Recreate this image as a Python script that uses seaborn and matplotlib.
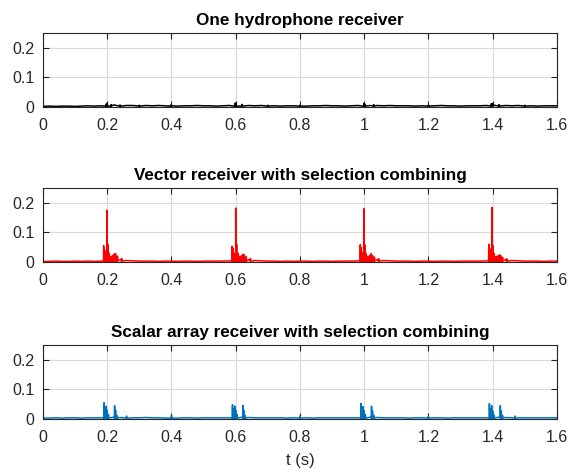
import numpy as np
import pandas as pd
import matplotlib
matplotlib.use("Agg")
import matplotlib.pyplot as plt
import seaborn as sns

# ---------------- data ----------------
titles = ["One hydrophone receiver",
          "Vector receiver with selection combining",
          "Scalar array receiver with selection combining"]
x_ticks = [0, 0.2, 0.4, 0.6, 0.8, 1.0, 1.2, 1.4, 1.6]
x_tick_labels = ["0", "0.2", "0.4", "0.6", "0.8", "1", "1.2", "1.4", "1.6"]
y_ticks = [0, 0.1, 0.2]
y_tick_labels = ["0", "0.1", "0.2"]

# noise floor sampled every 0.02 s (0 .. 1.6)
floor_time = [round(0.02 * i, 2) for i in range(81)]
hydro_floor = [0.002, 0.003, 0.002, 0.003, 0.003, 0.002, 0.003, 0.004, 0.003, 0.004,
               0.006, 0.007, 0.006, 0.005, 0.005, 0.004, 0.005, 0.004, 0.005, 0.004,
               0.004, 0.003, 0.004, 0.004, 0.005, 0.004, 0.004, 0.003, 0.004, 0.005,
               0.007, 0.006, 0.005, 0.004, 0.005, 0.004, 0.004, 0.003, 0.004, 0.004,
               0.004, 0.003, 0.004, 0.004, 0.005, 0.004, 0.004, 0.003, 0.004, 0.005,
               0.006, 0.005, 0.005, 0.004, 0.005, 0.004, 0.004, 0.004, 0.003, 0.004,
               0.004, 0.004, 0.005, 0.004, 0.004, 0.003, 0.004, 0.004, 0.004, 0.005,
               0.007, 0.006, 0.005, 0.004, 0.005, 0.004, 0.004, 0.003, 0.004, 0.004, 0.004]
vector_floor = [0.002, 0.002, 0.003, 0.002, 0.002, 0.003, 0.002, 0.003, 0.002, 0.003,
                0.008, 0.010, 0.008, 0.005, 0.004, 0.003, 0.003, 0.003, 0.002, 0.003,
                0.003, 0.002, 0.003, 0.003, 0.002, 0.003, 0.003, 0.003, 0.003, 0.004,
                0.009, 0.011, 0.008, 0.005, 0.004, 0.003, 0.003, 0.002, 0.003, 0.002,
                0.003, 0.003, 0.002, 0.003, 0.003, 0.002, 0.003, 0.003, 0.003, 0.004,
                0.009, 0.010, 0.008, 0.005, 0.004, 0.003, 0.003, 0.003, 0.002, 0.003,
                0.003, 0.002, 0.003, 0.003, 0.002, 0.003, 0.003, 0.003, 0.003, 0.004,
                0.009, 0.010, 0.008, 0.005, 0.004, 0.003, 0.003, 0.003, 0.002, 0.003, 0.003]
scalar_floor = [0.003, 0.003, 0.004, 0.003, 0.004, 0.004, 0.003, 0.004, 0.004, 0.004,
                0.006, 0.006, 0.005, 0.004, 0.004, 0.004, 0.005, 0.004, 0.004, 0.003,
                0.004, 0.003, 0.004, 0.004, 0.003, 0.004, 0.004, 0.004, 0.004, 0.004,
                0.006, 0.006, 0.005, 0.004, 0.004, 0.004, 0.004, 0.004, 0.003, 0.004,
                0.004, 0.004, 0.003, 0.004, 0.004, 0.004, 0.004, 0.004, 0.004, 0.004,
                0.006, 0.006, 0.005, 0.004, 0.004, 0.004, 0.004, 0.003, 0.004, 0.004,
                0.004, 0.004, 0.004, 0.003, 0.004, 0.004, 0.004, 0.004, 0.004, 0.004,
                0.006, 0.006, 0.005, 0.004, 0.004, 0.004, 0.004, 0.004, 0.004, 0.004, 0.004]

# individual spikes: times (s) and amplitudes
hydro_spike_t = [0.197, 0.200, 0.212, 0.240, 0.300, 0.398, 0.598, 0.601, 0.620,
                 0.700, 0.800, 0.999, 1.002, 1.030, 1.200, 1.396, 1.399, 1.420, 1.500]
hydro_spike_a = [0.010, 0.013, 0.008, 0.007, 0.006, 0.007, 0.012, 0.014, 0.009,
                 0.006, 0.006, 0.012, 0.010, 0.008, 0.006, 0.011, 0.012, 0.008, 0.006]

vector_spike_t = [0.189, 0.192, 0.195, 0.199, 0.202, 0.206, 0.212, 0.218, 0.222, 0.226, 0.232, 0.245,
                  0.589, 0.592, 0.595, 0.600, 0.603, 0.607, 0.613, 0.619, 0.623, 0.627, 0.633, 0.646,
                  0.988, 0.991, 0.994, 0.999, 1.002, 1.006, 1.012, 1.018, 1.022, 1.026, 1.032, 1.045,
                  1.388, 1.391, 1.394, 1.398, 1.401, 1.405, 1.411, 1.417, 1.421, 1.425, 1.431, 1.444]
vector_spike_a = [0.055, 0.040, 0.030, 0.175, 0.060, 0.030, 0.020, 0.022, 0.027, 0.028, 0.020, 0.012,
                  0.053, 0.045, 0.030, 0.182, 0.060, 0.030, 0.020, 0.022, 0.026, 0.024, 0.018, 0.012,
                  0.058, 0.048, 0.032, 0.180, 0.058, 0.028, 0.020, 0.022, 0.028, 0.022, 0.017, 0.011,
                  0.060, 0.045, 0.030, 0.185, 0.055, 0.028, 0.019, 0.021, 0.024, 0.022, 0.016, 0.011]

scalar_spike_t = [0.190, 0.193, 0.197, 0.200, 0.204, 0.223, 0.226, 0.230, 0.260, 0.400,
                  0.590, 0.593, 0.597, 0.600, 0.604, 0.623, 0.626, 0.630, 0.800,
                  0.990, 0.993, 0.997, 1.000, 1.004, 1.023, 1.026, 1.030, 1.200,
                  1.390, 1.393, 1.397, 1.400, 1.404, 1.424, 1.427, 1.431, 1.470]
scalar_spike_a = [0.055, 0.035, 0.043, 0.030, 0.015, 0.045, 0.030, 0.012, 0.010, 0.012,
                  0.048, 0.035, 0.044, 0.030, 0.015, 0.046, 0.028, 0.012, 0.010,
                  0.053, 0.036, 0.042, 0.028, 0.014, 0.043, 0.027, 0.012, 0.010,
                  0.052, 0.035, 0.045, 0.028, 0.014, 0.045, 0.028, 0.012, 0.010]

colors = ["#000000", "#FF0000", "#0072BD"]


def build_frame(floor, spike_t, spike_a):
    rows = list(zip(floor_time, floor))
    for t, a in zip(spike_t, spike_a):
        rows.append((t - 0.0007, 0.003))
        rows.append((t, a))
        rows.append((t + 0.0007, 0.003))
    df = pd.DataFrame(rows, columns=["t", "v"]).sort_values("t")
    return df


frames = [build_frame(hydro_floor, hydro_spike_t, hydro_spike_a),
          build_frame(vector_floor, vector_spike_t, vector_spike_a),
          build_frame(scalar_floor, scalar_spike_t, scalar_spike_a)]

# ---------------- figure ----------------
sns.set_theme(style="white")
plt.rcParams["font.family"] = ["Liberation Sans", "DejaVu Sans"]

fig = plt.figure(figsize=(5.8, 4.73), dpi=100)
bottoms = [0.7738, 0.4461, 0.1142]
left, width, height = 0.0741, 0.886, 0.1564

for i in range(3):
    ax = fig.add_axes([left, bottoms[i], width, height])
    sns.lineplot(data=frames[i], x="t", y="v", ax=ax, color=colors[i],
                 lw=1.1, estimator=None, sort=True)
    ax.set_xlim(0, 1.6)
    ax.set_ylim(0, 0.25)
    ax.set_xticks(x_ticks)
    ax.set_xticklabels(x_tick_labels)
    ax.set_yticks(y_ticks)
    ax.set_yticklabels(y_tick_labels)
    ax.grid(True, color="#DADADA", lw=0.8)
    ax.set_axisbelow(True)
    for s in ax.spines.values():
        s.set_visible(True)
        s.set_color("#262626")
        s.set_linewidth(0.8)
    ax.tick_params(direction="in", length=4, width=0.8, top=True, right=True,
                   bottom=True, left=True, labelsize=11.5, colors="#262626")
    ax.tick_params(axis="x", pad=8)
    ax.tick_params(axis="y", pad=6)
    ax.set_xlabel("")
    ax.set_ylabel("")
    ax.set_title(titles[i], fontsize=12.3, fontweight="bold", color="black", pad=6)

ax.set_xlabel("t (s)", fontsize=12, color="#262626", labelpad=6)

fig.savefig("out.png", dpi=100, facecolor="white")
